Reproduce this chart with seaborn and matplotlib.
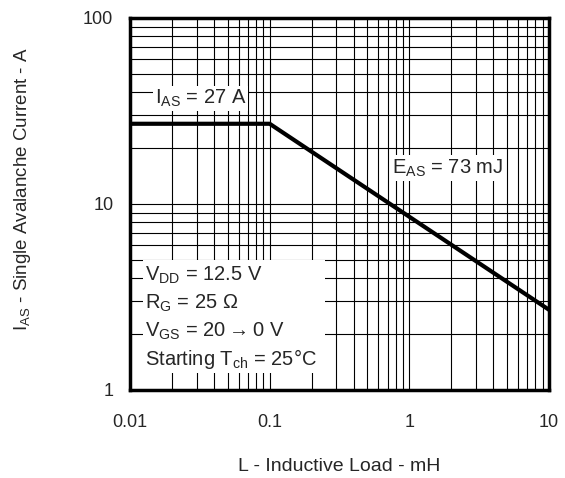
import matplotlib
matplotlib.use("Agg")
import matplotlib.pyplot as plt
import seaborn as sns
import pandas as pd

# avalanche capability curve
load_mh = [0.01, 0.1, 10]
current_a = [27, 27, 2.7]

x_ticks = [0.01, 0.1, 1, 10]
x_tick_labels = ['0.01', '0.1', '1', '10']
y_ticks = [1, 10, 100]
y_tick_labels = ['1', '10', '100']

conditions = ['$\\mathregular{V_{DD}}$ = 12.5 V',
              '$\\mathregular{R_{G}}$ = 25 Ω',
              '$\\mathregular{V_{GS}}$ = 20$\\rightarrow$0 V',
              'Starting $\\mathregular{T_{ch}}$ = 25°C']

sns.set_style('white')
plt.rcParams['font.family'] = ['Liberation Sans', 'DejaVu Sans']
plt.rcParams['mathtext.fontset'] = 'custom'
plt.rcParams['mathtext.rm'] = 'Liberation Sans'

df = pd.DataFrame({'L': load_mh, 'I': current_a})

fig = plt.figure(figsize=(5.65, 4.78), dpi=100)
ax = fig.add_axes([130 / 565, 1 - 390 / 478, 419 / 565, 372 / 478])

sns.lineplot(data=df, x='L', y='I', ax=ax, color='black', linewidth=3, zorder=3)

ax.set_xscale('log')
ax.set_yscale('log')
ax.set_xlim(0.01, 10)
ax.set_ylim(1, 100)
ax.set_xticks(x_ticks)
ax.set_xticklabels(x_tick_labels)
ax.set_yticks(y_ticks)
ax.set_yticklabels(y_tick_labels)
ax.tick_params(which='both', length=0, labelsize=13)
ax.tick_params(axis='x', pad=17)
ax.tick_params(axis='y', pad=12)
ax.grid(True, which='both', color='black', linewidth=0.8)
for s in ax.spines.values():
    s.set_linewidth(2.5)
    s.set_color('black')

ax.set_xlabel('L - Inductive Load - mH', fontsize=14, labelpad=20)
ax.set_ylabel(r'$\mathregular{I_{AS}}$ - Single Avalanche Current - A', fontsize=13.5, labelpad=36)
ax.yaxis.label.set_y(0.54)

box = dict(facecolor='white', edgecolor='none', pad=1.5)
ax.text(0.0151, 37, r'$\mathregular{I_{AS}}$ = 27 A', fontsize=14.5, va='center', ha='left', bbox=box, zorder=4)
ax.text(0.75, 15.6, r'$\mathregular{E_{AS}}$ = 73 mJ', fontsize=14.5, va='center', ha='left', bbox=box, zorder=4)

# white panel behind the test conditions
ax.add_patch(plt.Rectangle((0.031, 0.046), 0.434, 0.303, transform=ax.transAxes,
                           facecolor='white', edgecolor='none', zorder=3.5))
for i, line in enumerate(conditions):
    ax.text(0.036, 0.309 - i * 0.075, line, transform=ax.transAxes, fontsize=14.5,
            va='center', ha='left', zorder=4)

fig.savefig('out.png', dpi=100, facecolor='white')
